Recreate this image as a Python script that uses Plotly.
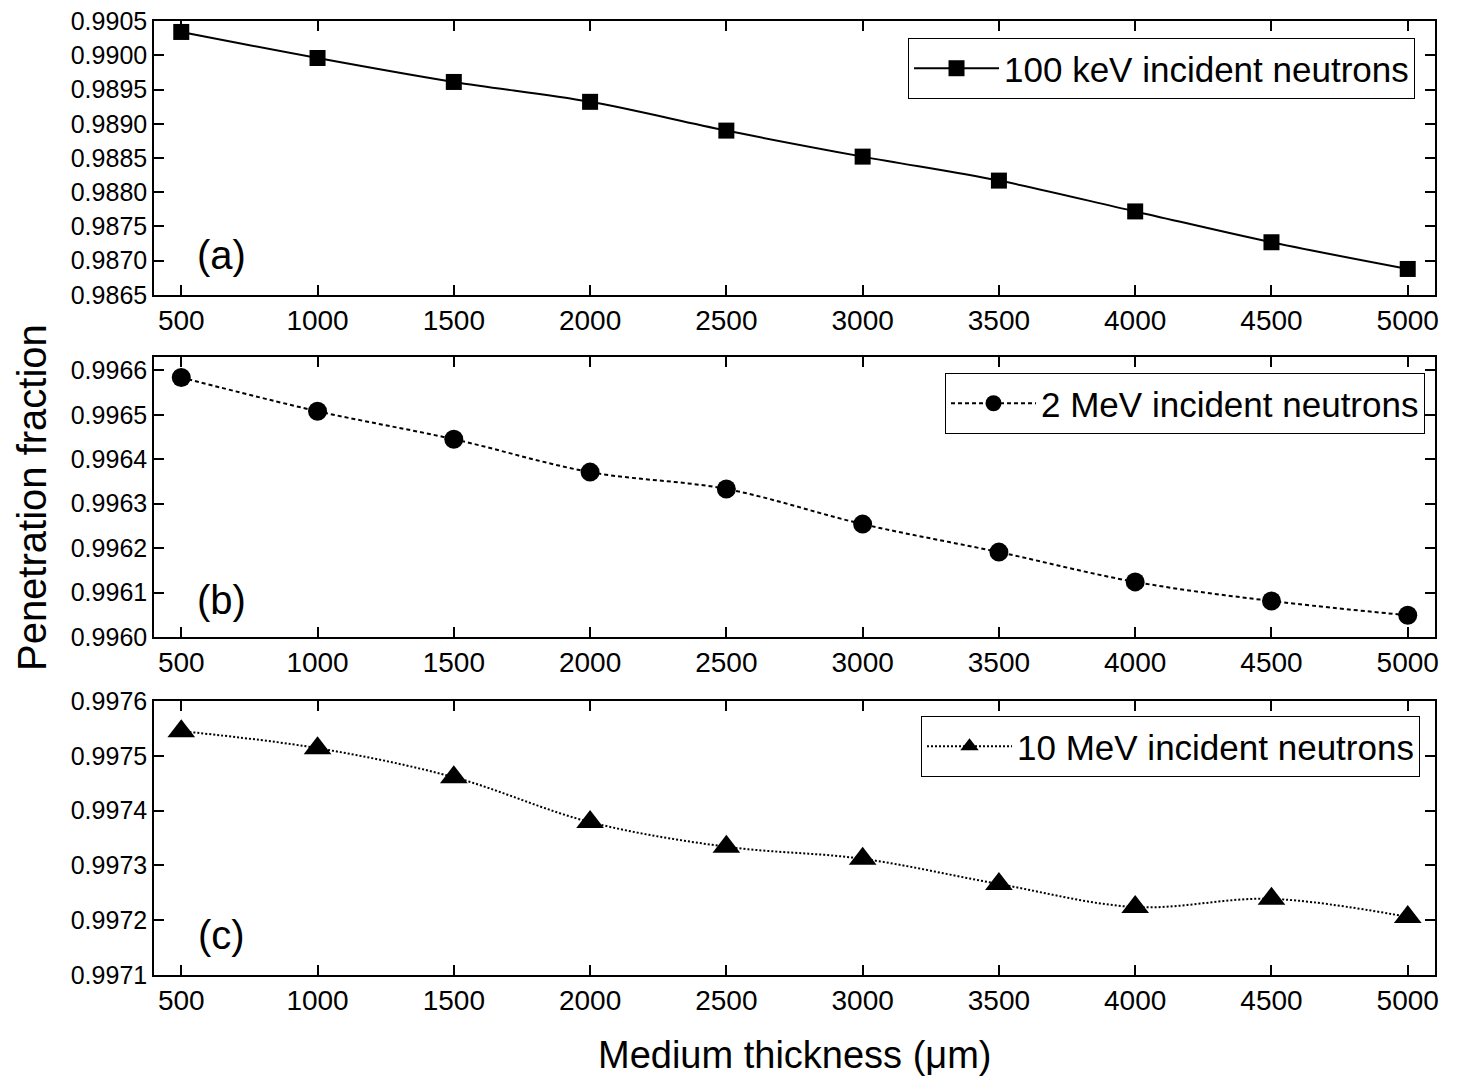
import plotly.graph_objects as go

thickness = [500, 1000, 1500, 2000, 2500, 3000, 3500, 4000, 4500, 5000]
frac_100keV = [0.99034, 0.98996, 0.98961, 0.98932, 0.98890, 0.98852, 0.98817, 0.98772, 0.98727, 0.98688]
frac_2MeV = [0.996584, 0.996508, 0.996445, 0.996371, 0.996333, 0.996254, 0.996191, 0.996124, 0.996081, 0.996049]
frac_10MeV = [0.997545, 0.997514, 0.997461, 0.997379, 0.997334, 0.997312, 0.997266, 0.997224, 0.997239, 0.997206]

names = ["100 keV incident neutrons", "2 MeV incident neutrons", "10 MeV incident neutrons"]
panel_labels = ["(a)", "(b)", "(c)"]
x_ticks = [500, 1000, 1500, 2000, 2500, 3000, 3500, 4000, 4500, 5000]

FONT = "Liberation Sans, Arial, sans-serif"

fig = go.Figure()
fig.update_layout(
    width=1444, height=1068,
    margin=dict(l=146, r=17, t=13, b=101, autoexpand=False),
    paper_bgcolor="white", plot_bgcolor="white",
    font=dict(family=FONT, color="black"),
    showlegend=True,
)

domains = [[0.7128, 1.0], [0.3543, 0.6478], [0.0, 0.2872]]
yranges = [[0.9865, 0.9905], [0.9960, 0.99663], [0.9971, 0.9976]]
ydticks = [0.0005, 0.0001, 0.0001]
series = [frac_100keV, frac_2MeV, frac_10MeV]
symbols = ["square", "circle", "triangle-up"]
msizes = [16, 19, 24]
dashes = ["solid", "4px,3px", "2px,2px"]
legend_pos = [(0.9844, 0.9822), (0.9922, 0.631), (0.9883, 0.2715)]
legend_ids = ["legend", "legend2", "legend3"]
label_y = [0.146, 0.132, 0.146]

for i in range(3):
    xa = "x" if i == 0 else f"x{i+1}"
    ya = "y" if i == 0 else f"y{i+1}"
    fig.add_trace(go.Scatter(
        x=thickness, y=series[i], mode="lines+markers", name=names[i],
        xaxis=xa, yaxis=ya, legend=legend_ids[i],
        line=dict(color="black", width=2, dash=dashes[i], shape="spline"),
        marker=dict(symbol=symbols[i], size=msizes[i], color="black"),
    ))
    axis_common = dict(
        showline=True, linecolor="black", linewidth=1.6, mirror="allticks",
        ticks="inside", ticklen=10, tickwidth=1.6, tickcolor="black",
        showgrid=False, zeroline=False, automargin=False,
        ticklabeloverflow="allow",
    )
    xkey = "xaxis" if i == 0 else f"xaxis{i+1}"
    ykey = "yaxis" if i == 0 else f"yaxis{i+1}"
    fig.update_layout(**{
        xkey: dict(axis_common, domain=[0, 1], anchor=ya, range=[400, 5100],
                   tickvals=x_ticks, tickfont=dict(size=28, family=FONT)),
        ykey: dict(axis_common, domain=domains[i], anchor=xa, range=yranges[i],
                   dtick=ydticks[i], tick0=yranges[i][0], tickformat=".4f",
                   tickfont=dict(size=25, family=FONT)),
        legend_ids[i]: dict(x=legend_pos[i][0], y=legend_pos[i][1], xanchor="right", yanchor="top",
                            bordercolor="black", borderwidth=1, bgcolor="white",
                            font=dict(size=35, family=FONT, color="black"),
                            itemwidth=85),
    })
    fig.add_annotation(text=panel_labels[i], xref=f"{xa} domain", yref=f"{ya} domain",
                       x=0.053, y=label_y[i], xanchor="center", yanchor="middle",
                       showarrow=False, font=dict(size=40, family=FONT, color="black"))

fig.add_annotation(text="Medium thickness (μm)", xref="paper", yref="paper",
                   x=0.5, y=-0.0839, xanchor="center", yanchor="middle", showarrow=False,
                   font=dict(size=38, family=FONT, color="black"))
fig.add_annotation(text="Penetration fraction", xref="paper", yref="paper",
                   x=-0.0952, y=0.5, xanchor="center", yanchor="middle", textangle=-90,
                   showarrow=False, font=dict(size=40, family=FONT, color="black"))

fig.write_html("out.html")
